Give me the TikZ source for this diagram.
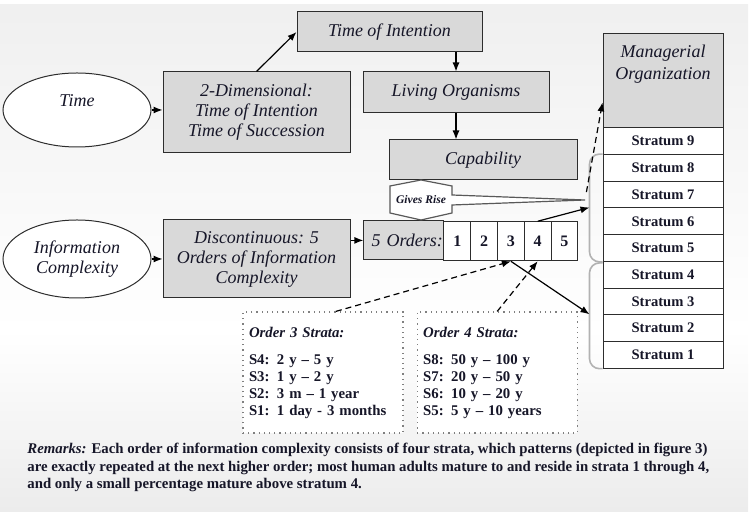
\documentclass[tikz,border=0pt]{standalone}
\usepackage{fontspec}
\setmainfont{Liberation Serif}
\usetikzlibrary{matrix,positioning,shapes.geometric,arrows.meta,calc}
\definecolor{boxgray}{RGB}{217,217,217}
\definecolor{ink}{RGB}{22,22,40}
\definecolor{edge}{RGB}{45,45,45}

\begin{document}
\begin{tikzpicture}[
  x=0.5pt, y=-0.5pt,
  every node/.style={text=ink},
  mainfont/.style={font=\itshape\fontsize{9}{10}\selectfont},
  graybox/.style={draw=edge, fill=boxgray, line width=0.5pt, align=center, inner sep=1pt, mainfont},
  ovalnode/.style={ellipse, draw=edge, fill=white, line width=0.5pt, align=center, inner sep=0pt, minimum width=74pt, mainfont},
  stratamatrix/.style={matrix of nodes, nodes=stratumtag, row sep=-0.5pt, inner sep=0pt},
  stratumtag/.style={draw=edge, fill=white, line width=0.5pt, minimum width=60pt, minimum height=13.35pt, inner sep=0pt, font=\bfseries\fontsize{7.3}{8}\selectfont},
  ordermatrix/.style={matrix of nodes, nodes=ordercell, column sep=-0.5pt, inner sep=0pt},
  ordercell/.style={draw=edge, fill=white, line width=0.5pt, minimum width=13.4pt, minimum height=19.5pt, inner sep=0pt, font=\bfseries\fontsize{8}{9}\selectfont},
  ordertag/.style={fill=boxgray, minimum width=40pt, text width=39pt, align=right, mainfont},
  stratabox/.style={draw=gray, dotted, fill=white, line width=0.6pt, minimum height=60.5pt, text width=74pt, inner xsep=3pt, align=left, font=\bfseries\fontsize{7.4}{8.5}\selectfont},
  risebox/.style={draw=gray!70!black, fill=white, line width=0.6pt},
  risetext/.style={inner sep=0pt, font=\bfseries\itshape\fontsize{5.8}{7}\selectfont},
  bracket/.style={draw=gray!60, line width=0.8pt, rounded corners=5pt},
  remarks/.style={align=left, inner sep=0pt, font=\bfseries\fontsize{7.4}{8.7}\selectfont},
  arrowline/.style={-{Latex[length=4.5pt,width=3.5pt]}, draw=black, line width=0.6pt},
  dasharrow/.style={arrowline, dash pattern=on 3pt off 2pt}
]
  \useasboundingbox (0,0) rectangle (751,512);
  \fill[top color=gray!12, bottom color=white] (0,5) rectangle (748,331);
  \fill[top color=white, bottom color=gray!15] (0,330) rectangle (748,512);

  \node[ovalnode, minimum height=37pt, text depth=9pt] (time) at (77,110) {Time};
  \node[ovalnode, minimum height=39pt] (info) at (77,259) {Information\\Complexity};
  \node[graybox, minimum width=93.5pt, minimum height=40.5pt] (twod) at (256.5,112.5) {2-Dimensional:\\Time of Intention\\Time of Succession};
  \node[graybox, minimum width=93.5pt, minimum height=39pt] (disc) at (256.5,259) {Discontinuous: 5\\Orders of Information\\Complexity};
  \node[graybox, minimum width=92.5pt, minimum height=20pt] (tint) at (389.5,32) {Time of Intention};
  \node[graybox, minimum width=93pt, minimum height=20.5pt] (living) at (456,92.5) {Living Organisms};
  \node[graybox, minimum width=94pt, minimum height=20pt] (capab) at (483,160) {Capability};

  \node[graybox, minimum width=60pt, minimum height=47pt, anchor=north,
    label={[align=center, anchor=north, yshift=-2.5pt, font=\itshape\fontsize{9}{10.8}\selectfont]north:Managerial\\Organization}] (mgr) at (663,33) {};
  \matrix[stratamatrix, anchor=north] (strata) at (663,127) {
    Stratum 9 \\
    Stratum 8 \\
    Stratum 7 \\
    Stratum 6 \\
    Stratum 5 \\
    Stratum 4 \\
    Stratum 3 \\
    Stratum 2 \\
    Stratum 1 \\
  };
  \draw[bracket] (strata-2-1.north west) -- ++(-13,0) |- (strata-5-1.south west);
  \draw[bracket] ($(strata-6-1.north west)+(0,2)$) -- ++(-13,0) |- (strata-9-1.south west);
  \coordinate (upbrace) at ($(strata-4-1.north west)+(-13,0)$);
  \coordinate (lowbrace) at ($(strata-8-1.north west)+(-13,0)$);

  \matrix[ordermatrix, anchor=north west] (orders) at (363,220) {
    |[ordertag]| 5 Orders: & 1 & 2 & 3 & 4 & 5 \\
  };

  \draw[risebox] (390,186) -- (421,180) -- (452,186) -- (452,195) -- (585,200) coordinate (risetip)
    -- (452,205) -- (452,213) -- (421,220) -- (390,213) -- cycle;
  \node[risetext] (rise) at (421,200) {Gives Rise};

  \node[stratabox] (o3) at (323,372.5) {\textit{Order 3 Strata:}\\[5pt]
    S4: 2 y -- 5 y\\
    S3: 1 y -- 2 y\\
    S2: 3 m -- 1 year\\
    S1: 1 day - 3 months};
  \node[stratabox, right=6.5pt of o3] (o4) {\textit{Order 4 Strata:}\\[5pt]
    S8: 50 y -- 100 y\\
    S7: 20 y -- 50 y\\
    S6: 10 y -- 20 y\\
    S5: 5 y -- 10 years};

  \node[remarks, anchor=north west] (remarks) at (27,443) {\textit{Remarks:} Each order of information complexity consists of four strata, which patterns (depicted in figure 3)\\
    are exactly repeated at the next higher order; most human adults mature to and reside in strata 1 through 4,\\
    and only a small percentage mature above stratum 4.};

  \draw[arrowline] (time.east) -- (time.east -| twod.west);
  \draw[arrowline] (twod.north) -- (tint.west);
  \draw[arrowline] (living.north |- tint.south) -- (living.north);
  \draw[arrowline] (living.south) -- (living.south |- capab.north);
  \draw[arrowline] (info.east) -- (info.east -| disc.west);
  \draw[arrowline] (orders-1-1.west -| disc.east) -- (orders-1-1.west);
  \draw[dasharrow, shorten <=4pt] (risetip) -- ($(mgr.north west)!0.73!(mgr.south west)$);
  \draw[arrowline] (orders-1-5.north) -- (upbrace);
  \draw[arrowline] (orders-1-4.south) -- (lowbrace);
  \draw[dasharrow] ($(o3.north west)!0.58!(o3.north east)$) -- (orders-1-4.south);
  \draw[dasharrow] (o4.north) -- (orders-1-5.south);
\end{tikzpicture}
\end{document}
